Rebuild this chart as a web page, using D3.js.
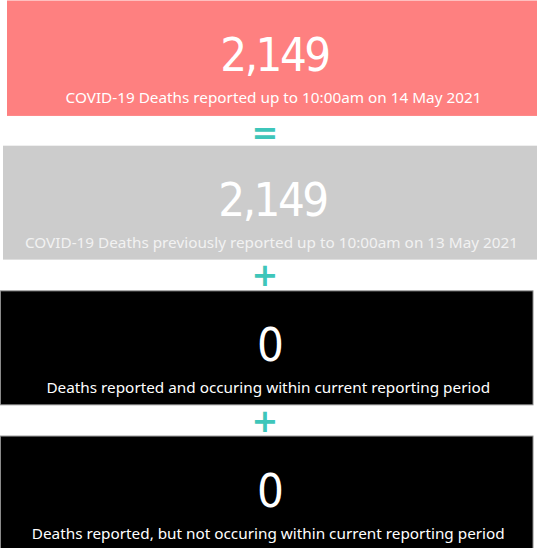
<!DOCTYPE html>
<html>
<head>
<meta charset="utf-8">
<script src="https://cdn.jsdelivr.net/npm/d3@7"></script>
<style>
body { margin: 0; background: #fff; }
</style>
</head>
<body>
<div id="canvas"></div>
<script>
// DATA -----------------------------------------------------
var card_values = [2149, 2149, 0, 0];
var card_labels = [
"COVID-19 Deaths reported up to 10:00am on 14 May 2021",
"COVID-19 Deaths previously reported up to 10:00am on 13 May 2021",
"Deaths reported and occuring within current reporting period",
"Deaths reported, but not occuring within current reporting period"
];
var card_operators = ["=", "+", "+"];

var width = 537;
var height = 548;

var fill_colors = ["#fe8080", "#cccccc", "#000000", "#000000"];
var label_colors = ["#ffffff", "#f2f2f2", "#ffffff", "#ffffff"];
var card_left = [7, 3, 0.5, 0.5];
var card_right = [537, 537, 533, 533];
var op_color = "#3ec6ba";

// STRUCTURE ------------------------------------------------
var container = d3.select("#canvas").append("svg")
.attr("width", width)
.attr("height", height)
.style("display", "block");

var yScale = d3.scaleBand()
.domain(card_values.map((v, i) => i))
.range([0, 551])
.paddingInner(0.205)
.paddingOuter(0);

var fmt = d3.format(",");

var cards = container.selectAll("g.card")
.data(card_values)
.enter()
.append("g")
.attr("class", "card")
.attr("transform", (d, i) => `translate(0, ${yScale(i)})`);

cards.append("rect")
.attr("x", (d, i) => card_left[i])
.attr("y", 0.5)
.attr("width", (d, i) => card_right[i] - card_left[i])
.attr("height", (d, i) => yScale.bandwidth() - (i === 0 ? 0 : 1.5))
.attr("fill", (d, i) => fill_colors[i])
.attr("stroke", (d, i) => i >= 2 ? "#8a8a8a" : "none")
.attr("stroke-width", 1);

var midX = (i) => (card_left[i] + card_right[i]) / 2 + 1.5;

// big number
cards.append("text")
.attr("x", (d, i) => midX(i) + 1)
.attr("y", 71)
.attr("text-anchor", "middle")
.attr("fill", "#fff")
.style("font-family", "'DejaVu Sans Condensed', 'DejaVu Sans'")
.style("font-stretch", "condensed")
.style("font-size", "47px")
.style("letter-spacing", "-2.5px")
.text((d) => fmt(d));

// label under number
cards.append("text")
.attr("x", (d, i) => midX(i))
.attr("y", 103)
.attr("text-anchor", "middle")
.attr("fill", (d, i) => label_colors[i])
.style("font-family", "'Noto Sans', 'Open Sans', sans-serif")
.style("font-size", "15.3px")
.text((d, i) => card_labels[i]);

// operators between cards
container.selectAll("text.op")
.data(card_operators)
.enter()
.append("text")
.attr("class", "op")
.attr("x", 265)
.attr("y", (d, i) => yScale(i + 1) - (i === 0 ? 1 : 4))
.attr("text-anchor", "middle")
.attr("fill", op_color)
.style("font-family", "'DejaVu Sans'")
.style("font-weight", "bold")
.style("font-size", "32px")
.text((d) => d);
</script>
</body>
</html>
